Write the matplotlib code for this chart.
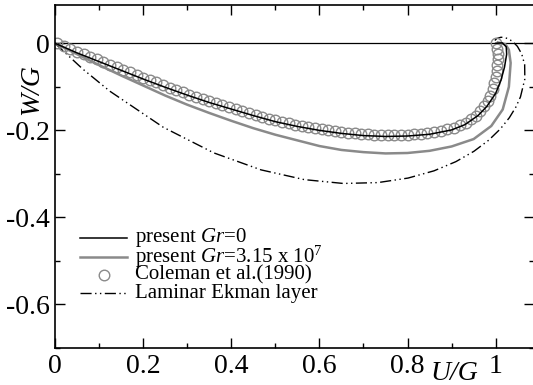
import matplotlib
matplotlib.use("Agg")
import matplotlib.pyplot as plt
from matplotlib.ticker import MultipleLocator, FixedLocator, FixedFormatter

plt.rcParams['font.family'] = ['Liberation Serif', 'DejaVu Serif']
plt.rcParams['mathtext.fontset'] = 'custom'
plt.rcParams['mathtext.rm'] = 'Liberation Serif'
plt.rcParams['mathtext.it'] = 'Liberation Serif:italic'
plt.rcParams['axes.unicode_minus'] = False

# present model, Gr = 0 (black line)
u_gr0 = [0, 0.05, 0.1, 0.15, 0.2, 0.25, 0.3, 0.35, 0.4, 0.45, 0.5, 0.55, 0.6,
         0.65, 0.7, 0.75, 0.8, 0.85, 0.9, 0.93, 0.96, 0.98, 1.0, 1.012, 1.02,
         1.025, 1.024, 1.015, 1.0]
w_gr0 = [0, -0.022, -0.042, -0.062, -0.082, -0.101, -0.119, -0.136, -0.151,
         -0.166, -0.180, -0.191, -0.200, -0.207, -0.212, -0.214, -0.213,
         -0.209, -0.199, -0.187, -0.166, -0.145, -0.115, -0.085, -0.055,
         -0.025, -0.008, 0.001, 0.0]

# present model, Gr = 3.15e7 (gray line)
u_gr7 = [0, 0.05, 0.1, 0.15, 0.2, 0.25, 0.3, 0.35, 0.4, 0.45, 0.5, 0.55, 0.6,
         0.65, 0.7, 0.75, 0.8, 0.85, 0.9, 0.95, 0.99, 1.016, 1.03, 1.034,
         1.03, 1.022, 1.005]
w_gr7 = [0, -0.025, -0.050, -0.074, -0.097, -0.120, -0.141, -0.160, -0.178,
         -0.195, -0.210, -0.223, -0.236, -0.245, -0.250, -0.253, -0.252,
         -0.247, -0.237, -0.220, -0.190, -0.152, -0.100, -0.045, -0.015,
         -0.002, 0.002]

# Coleman et al. (1990)
u_cole = [0.005, 0.02, 0.035, 0.05, 0.065, 0.08, 0.095, 0.11, 0.125, 0.14,
          0.155, 0.17, 0.185, 0.20, 0.215, 0.23, 0.245, 0.26, 0.275, 0.29,
          0.305, 0.32, 0.335, 0.35, 0.365, 0.38, 0.395, 0.41, 0.425, 0.44,
          0.455, 0.47, 0.485, 0.50, 0.515, 0.53, 0.545, 0.56, 0.575, 0.59,
          0.605, 0.62, 0.635, 0.65, 0.665, 0.68, 0.695, 0.71, 0.725, 0.74,
          0.755, 0.77, 0.785, 0.80, 0.815, 0.83, 0.845, 0.86, 0.875, 0.89,
          0.905, 0.92, 0.932, 0.944, 0.955, 0.965, 0.974, 0.982, 0.988,
          0.993, 0.997, 1.0, 1.002, 1.004, 1.005, 1.005, 1.003, 1.0]
w_cole = [0.0, -0.006, -0.012, -0.019, -0.025, -0.031, -0.037, -0.043,
          -0.049, -0.055, -0.061, -0.067, -0.073, -0.079, -0.085, -0.090,
          -0.096, -0.102, -0.107, -0.112, -0.118, -0.123, -0.128, -0.133,
          -0.138, -0.142, -0.147, -0.151, -0.156, -0.160, -0.164, -0.169,
          -0.173, -0.177, -0.180, -0.184, -0.187, -0.190, -0.193, -0.195,
          -0.198, -0.200, -0.202, -0.204, -0.206, -0.207, -0.209, -0.209,
          -0.210, -0.211, -0.211, -0.211, -0.210, -0.210, -0.209, -0.208,
          -0.206, -0.204, -0.201, -0.198, -0.194, -0.188, -0.182, -0.175,
          -0.166, -0.156, -0.145, -0.133, -0.120, -0.106, -0.092, -0.078,
          -0.064, -0.050, -0.037, -0.024, -0.012, 0.0]

# laminar Ekman layer
u_ek = [0, 0.0625, 0.1244, 0.2454, 0.3605, 0.4677, 0.5659, 0.6544, 0.7328,
        0.8012, 0.8600, 0.9097, 0.9508, 0.9842, 1.0107, 1.031, 1.0459,
        1.0563, 1.0662, 1.0658, 1.0591, 1.0493, 1.0386, 1.0283, 1.0193,
        1.012, 1.0023, 0.9981]
w_ek = [0, -0.0587, -0.1100, -0.1927, -0.2518, -0.2908, -0.3132, -0.3220,
        -0.3200, -0.3096, -0.2930, -0.2719, -0.2480, -0.2226, -0.1966,
        -0.1710, -0.1464, -0.1231, -0.0820, -0.0491, -0.0244, -0.0070,
        0.0042, 0.0106, 0.0134, 0.0139, 0.0109, 0.0065]

labels = ['present $\\mathit{Gr}$=$\\mathit{0}$',
          'present $\\mathit{Gr}$=$\\mathit{3.15}$ x $\\mathit{10^{7}}$',
          'Coleman et al.(1990)',
          'Laminar Ekman layer']

GRAY = '#8a8a8a'
EK_DASH = [8, 2.5, 1, 2.5, 1, 2.5]

fig = plt.figure(figsize=(5.33, 3.85), dpi=100)
ax = fig.add_axes([55 / 533, 37 / 385, 479 / 533, 343 / 385])

ax.axhline(0, color='k', lw=0.9, zorder=1)
ax.plot(u_ek, w_ek, color='k', lw=1.0, dashes=EK_DASH)
ax.plot(u_gr7, w_gr7, color=GRAY, lw=1.8)
ax.plot(u_cole, w_cole, 'o', ms=7.6, mfc='none', mec=GRAY, mew=1.0)
ax.plot(u_gr0, w_gr0, color='k', lw=1.1)

ax.set_xlim(0, 1.087)
ax.set_ylim(-0.7, 0.088)

ax.xaxis.set_major_locator(FixedLocator([0, 0.2, 0.4, 0.6, 0.8, 1.0]))
ax.xaxis.set_major_formatter(FixedFormatter(['0', '0.2', '0.4', '0.6', '0.8', '1']))
ax.xaxis.set_minor_locator(MultipleLocator(0.1))
ax.yaxis.set_major_locator(FixedLocator([0, -0.2, -0.4, -0.6]))
ax.yaxis.set_major_formatter(FixedFormatter(['0', '-0.2', '-0.4', '-0.6']))
ax.yaxis.set_minor_locator(MultipleLocator(0.1))
ax.tick_params(which='both', direction='in', top=True, right=True,
               labelsize=20, width=1)
ax.tick_params(which='major', length=7, pad=4)
ax.tick_params(which='minor', length=3.5)
for s in ax.spines.values():
    s.set_linewidth(1.2)

fig.text(32 / 533, 1 - 90 / 385, 'W/G', rotation=90, fontsize=20,
         style='italic', ha='center', va='center')
fig.text(454 / 533, 1 - 374 / 385, 'U/G', fontsize=20, style='italic',
         ha='center', va='center')

# legend drawn by hand to get the tight row spacing
rows = [0.321, 0.265, 0.213, 0.160]
x0, x1, xt = 0.052, 0.151, 0.168
ax.plot([x0, x1], [rows[0]] * 2, color='k', lw=1.1, transform=ax.transAxes)
ax.plot([x0, x1], [rows[1]] * 2, color=GRAY, lw=1.8, transform=ax.transAxes)
ax.plot([(x0 + x1) / 2], [rows[2]], 'o', ms=7.6, mfc='none', mec=GRAY,
        mew=1.0, transform=ax.transAxes)
ax.plot([x0, x1], [rows[3]] * 2, color='k', lw=1.0, dashes=EK_DASH,
        transform=ax.transAxes)
for r, lab in zip(rows, labels):
    ax.text(xt, r, lab, fontsize=15, va='center', ha='left',
            transform=ax.transAxes)

fig.savefig('out.png', dpi=100)
